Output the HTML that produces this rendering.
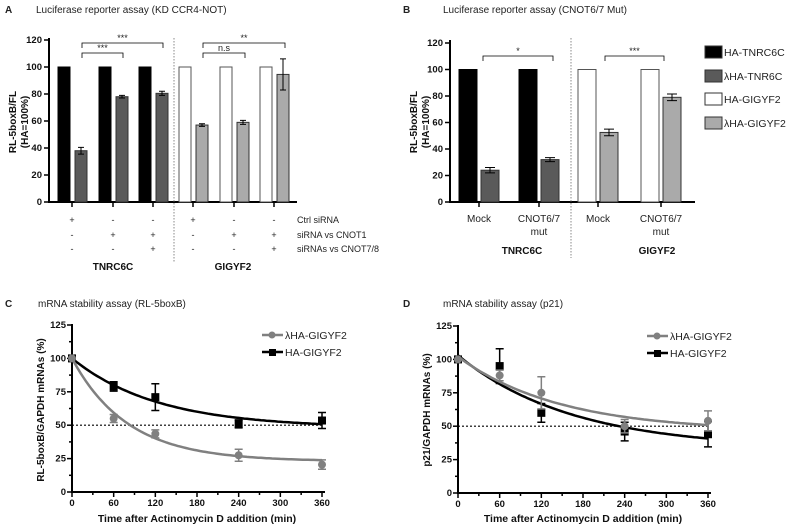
<!DOCTYPE html>
<html><head><meta charset="utf-8"><style>
body{margin:0;background:#fff}
svg{display:block;font-family:"Liberation Sans",Arial,sans-serif}
.t{font-size:10px;fill:#222}
.tk{font-size:9.5px;font-weight:bold;fill:#111}
.b{font-weight:bold}
</style></head><body>
<svg id="fig" width="792" height="527" viewBox="0 0 792 527">
<text x="5" y="13" class="t b">A</text>
<text x="36" y="13" class="t">Luciferase reporter assay (KD CCR4-NOT)</text>
<text x="403" y="13" class="t b">B</text>
<text x="443" y="13" class="t">Luciferase reporter assay (CNOT6/7 Mut)</text>
<text x="5" y="307" class="t b">C</text>
<text x="38" y="307" class="t">mRNA stability assay (RL-5boxB)</text>
<text x="403" y="307" class="t b">D</text>
<text x="443" y="307" class="t">mRNA stability assay (p21)</text>

<text transform="translate(16,122) rotate(-90)" text-anchor="middle" class="tk" style="font-size:10px">RL-5boxB/FL</text>
<text transform="translate(28,122) rotate(-90)" text-anchor="middle" class="tk" style="font-size:10px">(HA=100%)</text>
<text transform="translate(417,122) rotate(-90)" text-anchor="middle" class="tk" style="font-size:10px">RL-5boxB/FL</text>
<text transform="translate(429,122) rotate(-90)" text-anchor="middle" class="tk" style="font-size:10px">(HA=100%)</text>
<text transform="translate(44,410) rotate(-90)" text-anchor="middle" class="tk" style="font-size:10px">RL-5boxB/GAPDH mRNAs (%)</text>
<text transform="translate(430,410) rotate(-90)" text-anchor="middle" class="tk" style="font-size:10px">p21/GAPDH mRNAs (%)</text>
<text x="197" y="522" text-anchor="middle" class="tk" style="font-size:10.5px">Time after Actinomycin D addition (min)</text>
<text x="583" y="522" text-anchor="middle" class="tk" style="font-size:10.5px">Time after Actinomycin D addition (min)</text>

<g class="t" style="font-size:9px">
<text x="297" y="223">Ctrl siRNA</text><text x="297" y="238">siRNA vs CNOT1</text><text x="297" y="252">siRNAs vs CNOT7/8</text>
</g>
<text x="113" y="270" text-anchor="middle" class="tk" style="font-size:10px">TNRC6C</text>
<text x="233" y="270" text-anchor="middle" class="tk" style="font-size:10px">GIGYF2</text>
<text x="522" y="254" text-anchor="middle" class="tk" style="font-size:10px">TNRC6C</text>
<text x="657" y="254" text-anchor="middle" class="tk" style="font-size:10px">GIGYF2</text>
<g id="gA"></g><g id="gB"></g><g id="gC"></g><g id="gD"></g>
</svg>
<script>
// Panel A data
const aTicks=[0,20,40,60,80,100,120];
const aRef=[100,100,100,100,100,100];
const aKD=[38,78,80.5,57,59,94.5];
const aErr=[2.5,1,1.5,1,1.5,11.5];
const aCtrl=['+','-','-','+','-','-'];
const aCnot1=['-','+','+','-','+','+'];
const aCnot78=['-','-','+','-','-','+'];
// Panel B data
const bTicks=[0,20,40,60,80,100,120];
const bCats=['Mock','CNOT6/7','Mock','CNOT6/7'];
const bRef=[100,100,100,100];
const bMut=[24,32,52.5,79];
const bErr=[2,1.5,2.5,2.5];
const bLegend=['HA-TNRC6C','λHA-TNR6C','HA-GIGYF2','λHA-GIGYF2'];
// Panel C data
const times=[0,60,120,240,360];
const xTicks=[0,60,120,180,240,300,360];
const yTicksC=[0,25,50,75,100,125];
const cLam=[100,55,43.5,27.5,20.5];
const cLamErr=[0,3,3,4.5,3.5];
const cHA=[100,79,71,51,53.5];
const cHAErr=[0,3.5,10,3,6];
const cLamFit=[100,23,0.0125];
const cHAFit=[100,48,0.0081];
// Panel D data
const dLam=[100,88,75,50,54];
const dLamErr=[0,4,12,5,7.5];
const dHA=[100,95,60,46,44];
const dHAErr=[0,13,7,7,9.5];
const dLamFit=[102,46,0.0068];
const dHAFit=[103,33,0.0061];

const NS='http://www.w3.org/2000/svg';
function mk(p,tag,at,txt){const e=document.createElementNS(NS,tag);for(const k in at)e.setAttribute(k,at[k]);if(txt!==undefined)e.textContent=txt;p.appendChild(e);return e;}

(function(){
const g=document.getElementById('gA');
const y=v=>202-v*(162/120);
const cx=[72,113,153,193,234,274];
mk(g,'line',{x1:49,y1:38,x2:49,y2:203,stroke:'#000','stroke-width':2});
mk(g,'line',{x1:48,y1:202,x2:297,y2:202,stroke:'#000','stroke-width':2});
aTicks.forEach(t=>{mk(g,'line',{x1:44,x2:49,y1:y(t),y2:y(t),stroke:'#000','stroke-width':1.5});
const tx=mk(g,'text',{x:42,y:y(t)+3,'text-anchor':'end',class:'tk'},t);

});
mk(g,'line',{x1:174,y1:38,x2:174,y2:262,stroke:'#888','stroke-dasharray':'1.5,1.5','stroke-width':1});
cx.forEach((c,i)=>{
 const gig=i>=3;
 const r=mk(g,'rect',{x:c-14,y:y(aRef[i]),width:12,height:202-y(aRef[i]),fill:gig?'#fff':'#000',stroke:gig?'#555':'#000','stroke-width':1});
 
 
 const r2=mk(g,'rect',{x:c+3,y:y(aKD[i]),width:12,height:202-y(aKD[i]),fill:gig?'#aaa':'#5a5a5a',stroke:'#333','stroke-width':1});
 
 
 const ex=c+9,hi=y(aKD[i]+aErr[i]),lo=y(aKD[i]-aErr[i]);
 mk(g,'path',{d:`M${ex},${hi}V${lo}M${ex-3},${hi}H${ex+3}M${ex-3},${lo}H${ex+3}`,stroke:'#000',fill:'none','stroke-width':1});
 mk(g,'line',{x1:c,x2:c,y1:202,y2:207,stroke:'#000','stroke-width':1.5});
 [[aCtrl,223],[aCnot1,238],[aCnot78,252]].forEach(([arr,yy])=>{const t=mk(g,'text',{x:c,y:yy,'text-anchor':'middle',class:'t',style:'font-size:9px'},arr[i]);
 
 });
});
function br(x1,x2,yy,lab){mk(g,'path',{d:`M${x1},${yy+5}V${yy}H${x2}V${yy+5}`,stroke:'#000',fill:'none','stroke-width':0.8});
 const t=mk(g,'text',{x:(x1+x2)/2,y:yy-2,'text-anchor':'middle',class:'t',style:'font-size:9px'},lab);
 
 }
br(82,163,43,'***');br(82,123,53,'***');br(203,285,43,'**');br(203,245,53,'n.s');
})();

(function(){
const g=document.getElementById('gB');
const y=v=>202-v*(159/120);
const cx=[479,539,598,661];
mk(g,'line',{x1:450,y1:40,x2:450,y2:203,stroke:'#000','stroke-width':2});
mk(g,'line',{x1:449,y1:202,x2:695,y2:202,stroke:'#000','stroke-width':2});
bTicks.forEach(t=>{mk(g,'line',{x1:445,x2:450,y1:y(t),y2:y(t),stroke:'#000','stroke-width':1.5});
const tx=mk(g,'text',{x:443,y:y(t)+3,'text-anchor':'end',class:'tk'},t);

});
mk(g,'line',{x1:571,y1:38,x2:571,y2:258,stroke:'#888','stroke-dasharray':'1.5,1.5','stroke-width':1});
cx.forEach((c,i)=>{
 const gig=i>=2;
 const r=mk(g,'rect',{x:c-20,y:y(bRef[i]),width:18,height:202-y(bRef[i]),fill:gig?'#fff':'#000',stroke:gig?'#555':'#000'});
 
 
 const r2=mk(g,'rect',{x:c+2,y:y(bMut[i]),width:18,height:202-y(bMut[i]),fill:gig?'#aaa':'#5a5a5a',stroke:'#333'});
 
 
 const ex=c+11,hi=y(bMut[i]+bErr[i]),lo=y(bMut[i]-bErr[i]);
 mk(g,'path',{d:`M${ex},${hi}V${lo}M${ex-5},${hi}H${ex+5}M${ex-5},${lo}H${ex+5}`,stroke:'#000',fill:'none'});
 mk(g,'line',{x1:c,x2:c,y1:202,y2:207,stroke:'#000','stroke-width':1.5});
 const t=mk(g,'text',{x:c,y:222,'text-anchor':'middle',class:'t'},bCats[i]);
 
 
 if(bCats[i]!=='Mock'){const m=mk(g,'text',{x:c,y:235,'text-anchor':'middle',class:'t'},'mut');
 
 }
});
function br(x1,x2,yy,lab){mk(g,'path',{d:`M${x1},${yy+5}V${yy}H${x2}V${yy+5}`,stroke:'#000',fill:'none','stroke-width':0.8});
 const t=mk(g,'text',{x:(x1+x2)/2,y:yy-2,'text-anchor':'middle',class:'t',style:'font-size:9px'},lab);
 
 }
br(483,553,56,'*');br(605,664,56,'***');
const fills=['#000','#5a5a5a','#fff','#aaa'];
const ly=[52,76,99,123];
bLegend.forEach((l,i)=>{
 const r=mk(g,'rect',{x:705,y:ly[i]-6,width:17,height:12,fill:fills[i],stroke:'#333'});
 
 
 const t=mk(g,'text',{x:724,y:ly[i]+4,class:'t',style:'font-size:10.5px'},l);
 
 
});
})();

function linePanel(id,x0,x1,y0,y125,sA,eA,fA,sB,eB,fB,pfx){
 const g=document.getElementById(id);
 const X=t=>x0+t*(x1-x0)/360, Y=v=>y0-v*(y0-y125)/125;
 mk(g,'line',{x1:x0,y1:y125-1,x2:x0,y2:y0+1,stroke:'#000','stroke-width':2});
 mk(g,'line',{x1:x0-1,y1:y0,x2:x1+3,y2:y0,stroke:'#000','stroke-width':2});
 for(let v=0;v<=125;v+=12.5){mk(g,'line',{x1:x0-(v%25?3:5),x2:x0,y1:Y(v),y2:Y(v),stroke:'#000','stroke-width':1.5});}
 yTicksC.forEach(v=>{const t=mk(g,'text',{x:x0-6,y:Y(v)+3,'text-anchor':'end',class:'tk'},v);
 
 });
 for(let t=0;t<=360;t+=30){mk(g,'line',{x1:X(t),x2:X(t),y1:y0,y2:y0+(t%60?3:5),stroke:'#000','stroke-width':1.5});}
 xTicks.forEach(t=>{const e=mk(g,'text',{x:X(t),y:y0+14,'text-anchor':'middle',class:'tk'},t);
 
 });
 mk(g,'line',{x1:X(0),x2:X(360),y1:Y(50),y2:Y(50),stroke:'#000','stroke-dasharray':'2,2','stroke-width':1.2});
 function series(vals,errs,fit,col,sq,nm){
  let d='';for(let t=0;t<=360;t+=4){const v=(fit[0]-fit[1])*Math.exp(-fit[2]*t)+fit[1];d+=(t?'L':'M')+X(t).toFixed(1)+','+Y(v).toFixed(1);}
  const p=mk(g,'path',{d,stroke:col,fill:'none','stroke-width':2.5});
  
  
  vals.forEach((v,i)=>{const x=X(times[i]);
   if(errs[i]){const hi=Y(v+errs[i]),lo=Y(v-errs[i]);mk(g,'path',{d:`M${x},${hi}V${lo}M${x-4},${hi}H${x+4}M${x-4},${lo}H${x+4}`,stroke:col,fill:'none','stroke-width':1.5});}
   const m=sq?mk(g,'rect',{x:x-4,y:Y(v)-4,width:8,height:8,fill:col}):mk(g,'circle',{cx:x,cy:Y(v),r:4,fill:col});
   
   });
 }
 series(sB,eB,fB,'#000',true,'ha');
 series(sA,eA,fA,'#808080',false,'lambda');
 return {g,X,Y};
}
(function(){
 const c=linePanel('gC',72,322,492,325,cLam,cLamErr,cLamFit,cHA,cHAErr,cHAFit,'panel-c');
 const g=c.g;
 mk(g,'line',{x1:262,x2:283,y1:335,y2:335,stroke:'#808080','stroke-width':2.5});mk(g,'circle',{cx:272,cy:335,r:3.5,fill:'#808080'});
 mk(g,'line',{x1:262,x2:283,y1:352,y2:352,stroke:'#000','stroke-width':2.5});mk(g,'rect',{x:269,y:349,width:7,height:7,fill:'#000'});
 const t1=mk(g,'text',{x:285,y:339,class:'t',style:'font-size:10.5px'},'λHA-GIGYF2');
 
 
 const t2=mk(g,'text',{x:285,y:356,class:'t',style:'font-size:10.5px'},'HA-GIGYF2');
 
 
})();
(function(){
 const c=linePanel('gD',458,708,493,326,dLam,dLamErr,dLamFit,dHA,dHAErr,dHAFit,'panel-d');
 const g=c.g;
 mk(g,'line',{x1:647,x2:668,y1:336,y2:336,stroke:'#808080','stroke-width':2.5});mk(g,'circle',{cx:657,cy:336,r:3.5,fill:'#808080'});
 mk(g,'line',{x1:647,x2:668,y1:353,y2:353,stroke:'#000','stroke-width':2.5});mk(g,'rect',{x:654,y:350,width:7,height:7,fill:'#000'});
 const t1=mk(g,'text',{x:670,y:340,class:'t',style:'font-size:10.5px'},'λHA-GIGYF2');
 
 
 const t2=mk(g,'text',{x:670,y:357,class:'t',style:'font-size:10.5px'},'HA-GIGYF2');
 
 
})();
</script>
</body></html>
